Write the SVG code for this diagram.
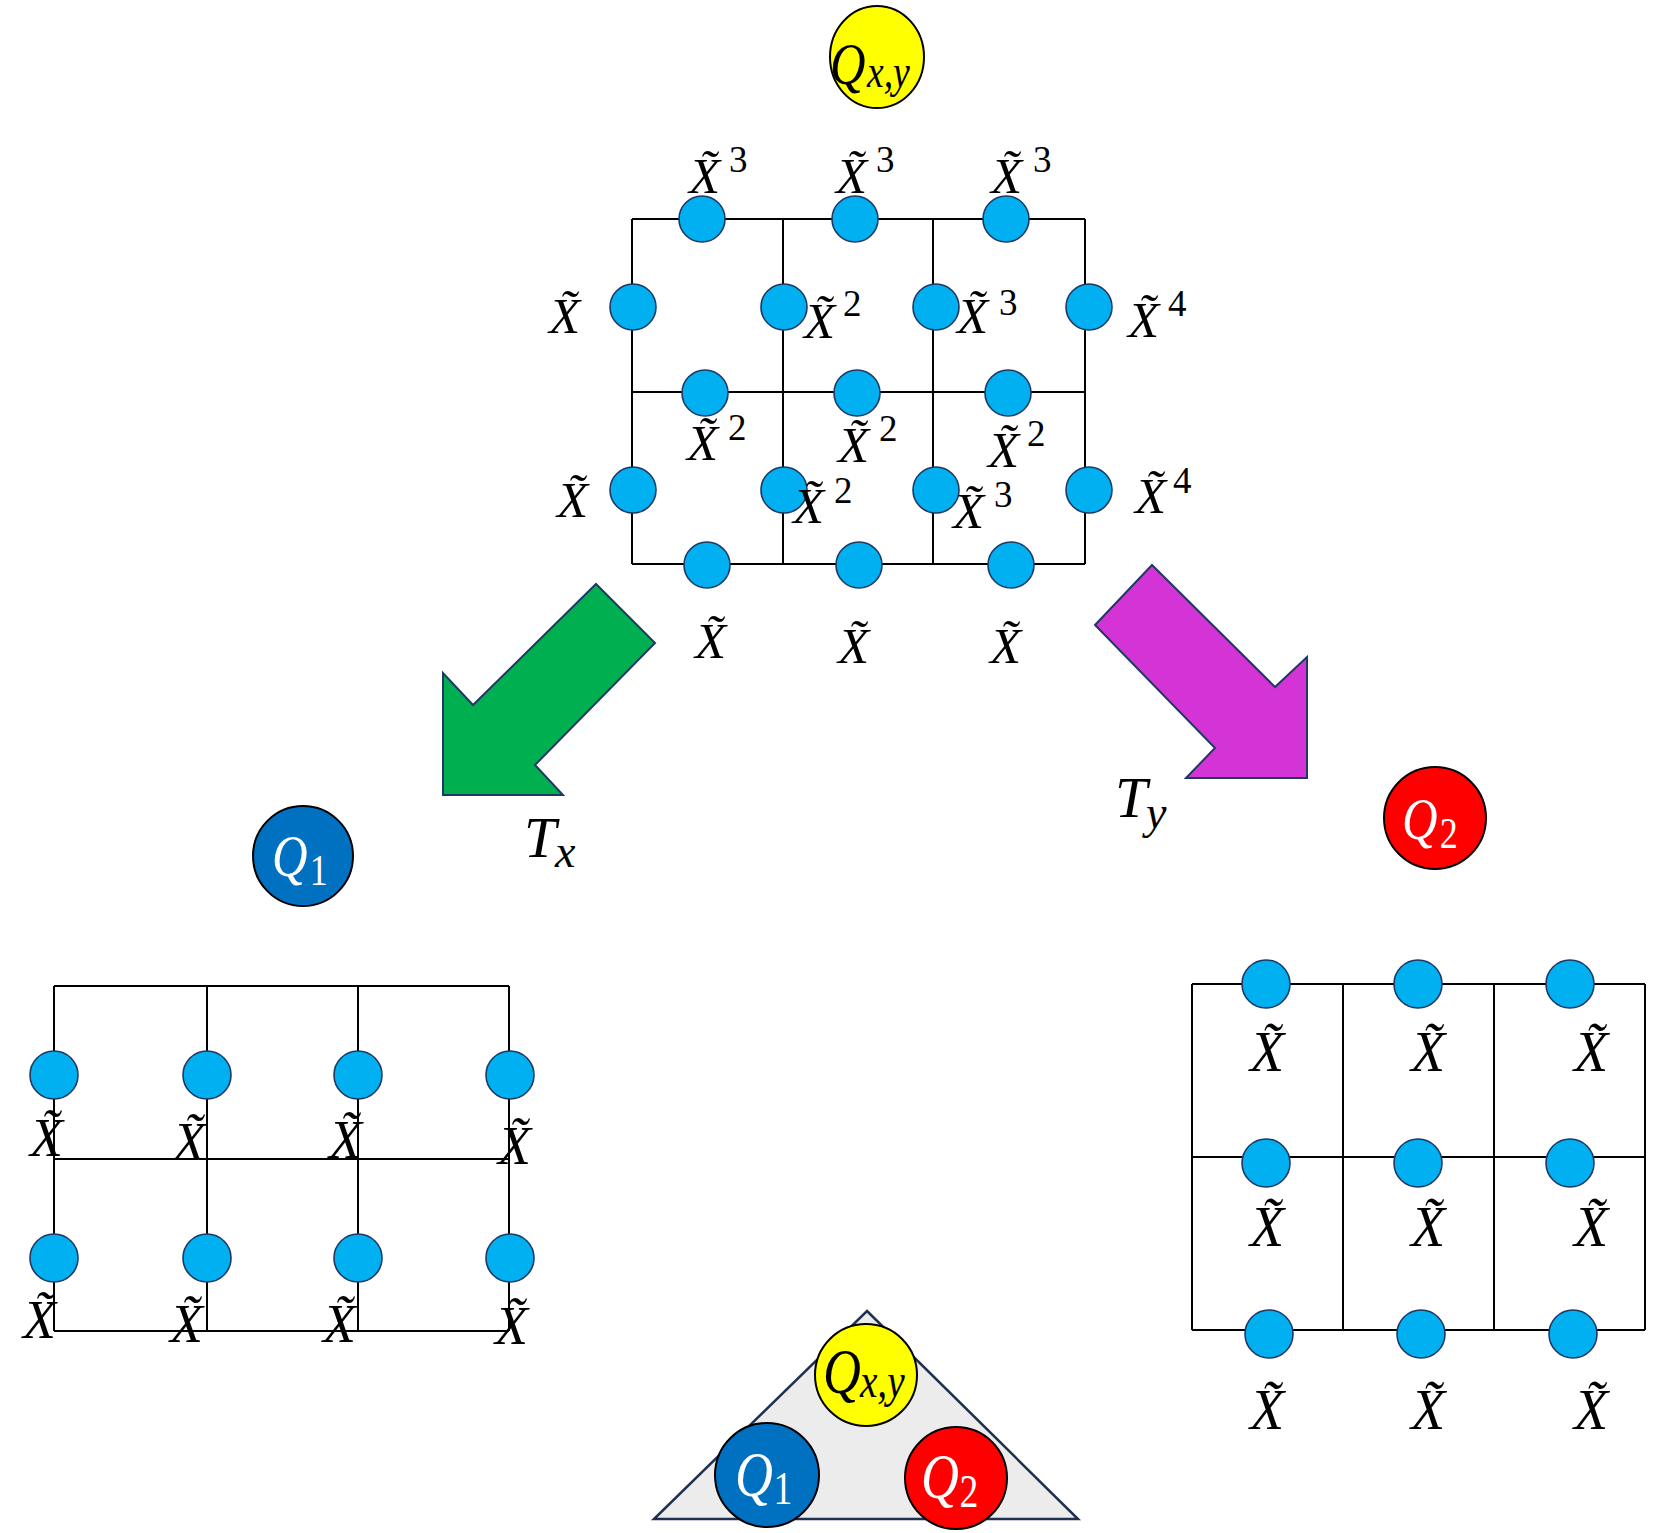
<svg xmlns="http://www.w3.org/2000/svg" width="1661" height="1533" viewBox="0 0 1661 1533">
<style>
.ln{stroke:#000;stroke-width:2;fill:none}
.site{fill:#00b0f0;stroke:#1f3864;stroke-width:1.6}
.m{font-family:"Liberation Serif","DejaVu Serif",serif;font-style:italic;fill:#000}
.t{font-size:51px}
.b{font-size:54px}
.c{font-size:56px}
.up{font-style:normal}
.s{font-size:37px}
.q{stroke:#000;stroke-width:2}
.w{fill:#fff}
</style>
<defs>
<clipPath id="clipTop"><ellipse cx="877" cy="57" rx="47" ry="51"/></clipPath>
<clipPath id="clipBot"><circle cx="866" cy="1375" r="51"/></clipPath>
</defs>
<rect width="1661" height="1533" fill="#fff"/>

<g id="q-xy-top">
<ellipse class="q" cx="877" cy="57" rx="47" ry="51" fill="#ffff00"/>
<g clip-path="url(#clipTop)">
<text class="m" transform="translate(830,84) scale(0.82,1)" font-size="60">Q<tspan x="45" y="3" font-size="46">x,y</tspan></text>
</g>
</g>

<g id="grid-xy">
<g class="ln">
<path d="M632 219H1085M632 392H1085M632 564H1085M632 219V564M783 219V564M933 219V564M1085 219V564"/>
</g>
<g class="site">
<circle cx="702" cy="219" r="23"/><circle cx="855" cy="219" r="23"/><circle cx="1006" cy="219" r="23"/>
<circle cx="633" cy="307" r="23"/><circle cx="784" cy="307" r="23"/><circle cx="936" cy="307" r="23"/><circle cx="1089" cy="307" r="23"/>
<circle cx="705" cy="393" r="23"/><circle cx="857" cy="393" r="23"/><circle cx="1008" cy="393" r="23"/>
<circle cx="633" cy="490" r="23"/><circle cx="784" cy="490" r="23"/><circle cx="936" cy="490" r="23"/><circle cx="1089" cy="490" r="23"/>
<circle cx="707" cy="565" r="23"/><circle cx="859" cy="565" r="23"/><circle cx="1011" cy="565" r="23"/>
</g>
<g class="m t">
<text x="689" y="193">X&#x303;<tspan class="up s" x="729" y="172">3</tspan></text>
<text x="836" y="193">X&#x303;<tspan class="up s" x="876" y="172">3</tspan></text>
<text x="991" y="193">X&#x303;<tspan class="up s" x="1033" y="172">3</tspan></text>
<text x="549" y="333">X&#x303;</text>
<text x="804" y="338">X&#x303;<tspan class="up s" x="843" y="316">2</tspan></text>
<text x="957" y="333">X&#x303;<tspan class="up s" x="999" y="315">3</tspan></text>
<text x="1128" y="337">X&#x303;<tspan class="up s" x="1168" y="316">4</tspan></text>
<text x="687" y="460">X&#x303;<tspan class="up s" x="728" y="440">2</tspan></text>
<text x="838" y="462">X&#x303;<tspan class="up s" x="879" y="441">2</tspan></text>
<text x="988" y="467">X&#x303;<tspan class="up s" x="1027" y="446">2</tspan></text>
<text x="557" y="517">X&#x303;</text>
<text x="793" y="523">X&#x303;<tspan class="up s" x="834" y="503">2</tspan></text>
<text x="953" y="528">X&#x303;<tspan class="up s" x="994" y="507">3</tspan></text>
<text x="1135" y="513">X&#x303;<tspan class="up s" x="1173" y="493">4</tspan></text>
<text x="695" y="658">X&#x303;</text>
<text x="838" y="663">X&#x303;</text>
<text x="990" y="663">X&#x303;</text>
</g>
</g>

<g id="connectors">
<polygon points="596,584 655,643 535,765 563,795 443,795 443,673 473,705" fill="#00b050" stroke="#1f3864" stroke-width="2"/>
<polygon points="1152,565 1275,687 1307,657 1307,778 1186,778 1215,748 1095,625" fill="#d433d6" stroke="#1f3864" stroke-width="2"/>
<text class="m" x="524" y="857" font-size="58">T<tspan x="555" y="867" font-size="46">x</tspan></text>
<text class="m" x="1115" y="817" font-size="58">T<tspan x="1146" y="828" font-size="46">y</tspan></text>
</g>

<g id="q1-top">
<circle class="q" cx="303" cy="856" r="50" fill="#0070c0"/>
<text class="m w" transform="translate(272,876) scale(0.82,1)" font-size="60">Q<tspan class="up" x="46" y="9" font-size="44">1</tspan></text>
</g>

<g id="q2-top">
<circle class="q" cx="1435" cy="818" r="51" fill="#ff0000"/>
<text class="m w" transform="translate(1402,839) scale(0.82,1)" font-size="60">Q<tspan class="up" x="46" y="9" font-size="44">2</tspan></text>
</g>

<g id="grid-x">
<g class="ln">
<path d="M54 986H509M54 1159H509M54 1331H509M54 986V1331M207 986V1331M358 986V1331M509 986V1331"/>
</g>
<g class="site">
<circle cx="54" cy="1075" r="24"/><circle cx="207" cy="1075" r="24"/><circle cx="358" cy="1075" r="24"/><circle cx="510" cy="1075" r="24"/>
<circle cx="54" cy="1258" r="24"/><circle cx="207" cy="1258" r="24"/><circle cx="358" cy="1258" r="24"/><circle cx="510" cy="1258" r="24"/>
</g>
<g class="m b">
<text x="30" y="1156">X&#x303;</text>
<text x="173" y="1160">X&#x303;</text>
<text x="329" y="1158">X&#x303;</text>
<text x="498" y="1164">X&#x303;</text>
<text x="23" y="1338">X&#x303;</text>
<text x="170" y="1342">X&#x303;</text>
<text x="323" y="1342">X&#x303;</text>
<text x="495" y="1344">X&#x303;</text>
</g>
</g>

<g id="grid-y">
<g class="ln">
<path d="M1192 984H1645M1192 1157H1645M1192 1330H1645M1192 984V1330M1343 984V1330M1494 984V1330M1645 984V1330"/>
</g>
<g class="site">
<circle cx="1266" cy="984" r="24"/><circle cx="1418" cy="984" r="24"/><circle cx="1570" cy="984" r="24"/>
<circle cx="1266" cy="1163" r="24"/><circle cx="1418" cy="1163" r="24"/><circle cx="1570" cy="1163" r="24"/>
<circle cx="1269" cy="1334" r="24"/><circle cx="1421" cy="1334" r="24"/><circle cx="1573" cy="1334" r="24"/>
</g>
<g class="m c">
<text x="1250" y="1071">X&#x303;</text>
<text x="1411" y="1071">X&#x303;</text>
<text x="1574" y="1071">X&#x303;</text>
<text x="1250" y="1246">X&#x303;</text>
<text x="1411" y="1246">X&#x303;</text>
<text x="1574" y="1246">X&#x303;</text>
<text x="1250" y="1429">X&#x303;</text>
<text x="1411" y="1429">X&#x303;</text>
<text x="1574" y="1429">X&#x303;</text>
</g>
</g>

<g id="legend">
<polygon points="867,1311 1078,1519 654,1519" fill="#ececec" stroke="#1f3050" stroke-width="2.5"/>
<g id="q-xy-bottom">
<circle class="q" cx="866" cy="1375" r="51" fill="#ffff00"/>
<g clip-path="url(#clipBot)">
<text class="m" transform="translate(823,1393) scale(0.82,1)" font-size="64">Q<tspan x="45" y="4" font-size="48">x,y</tspan></text>
</g>
</g>
<g id="q1-bottom">
<circle class="q" cx="767" cy="1475" r="52" fill="#0070c0"/>
<text class="m w" transform="translate(735,1496) scale(0.82,1)" font-size="64">Q<tspan class="up" x="47" y="8" font-size="46">1</tspan></text>
</g>
<g id="q2-bottom">
<circle class="q" cx="956" cy="1478" r="51" fill="#ff0000"/>
<text class="m w" transform="translate(921,1498) scale(0.82,1)" font-size="64">Q<tspan class="up" x="47" y="9" font-size="46">2</tspan></text>
</g>
</g>
</svg>
